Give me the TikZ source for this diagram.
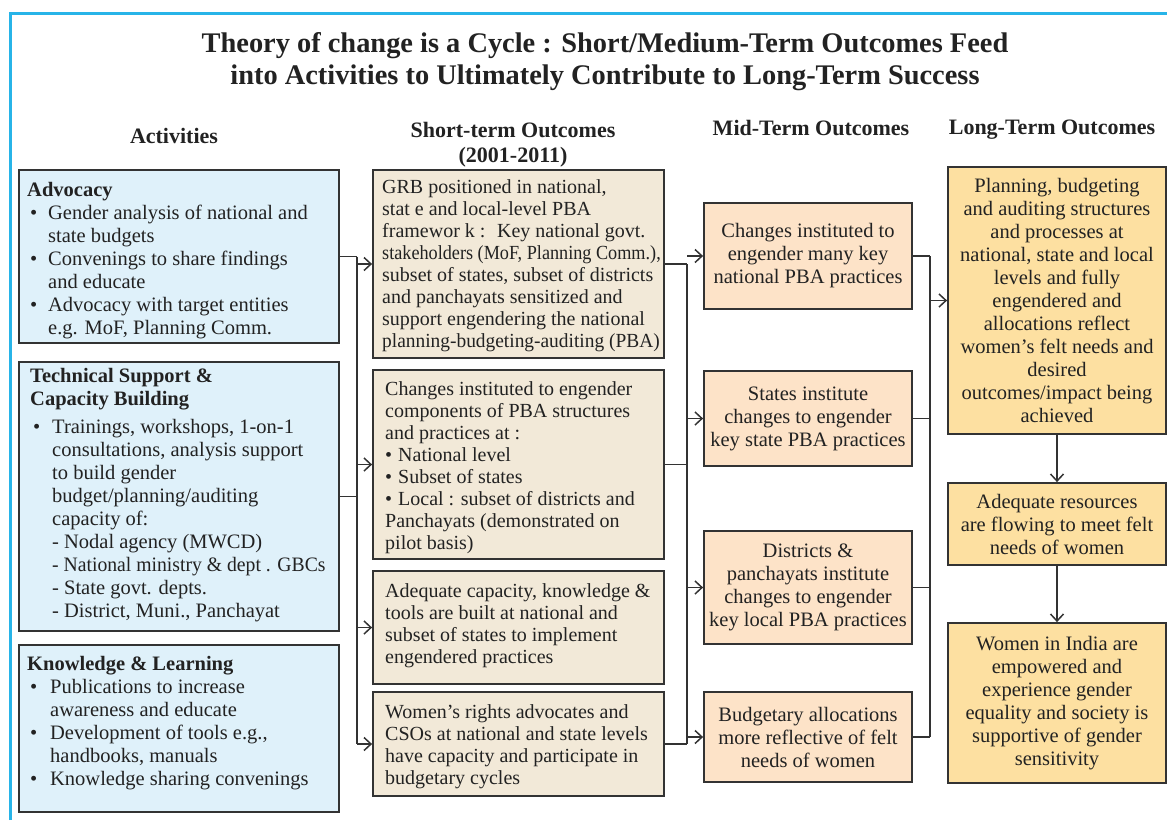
\documentclass[tikz,border=0pt]{standalone}
\usepackage{fontspec}
\setmainfont{Liberation Serif}
\usetikzlibrary{arrows.meta}

\definecolor{frameblue}{HTML}{27B4E8}
\definecolor{inkc}{HTML}{222222}
\definecolor{edgec}{HTML}{333333}
\definecolor{actfill}{HTML}{DFF1FA}
\definecolor{stfill}{HTML}{F2E9D8}
\definecolor{midfill}{HTML}{FDE3C8}
\definecolor{ltfill}{HTML}{FDE0A1}

\newcommand{\txtbody}{\fontsize{20.5pt}{23pt}\selectfont}
\newcommand{\txtst}{\fontsize{20pt}{22pt}\selectfont}
\newcommand{\txthead}{\fontsize{22pt}{25pt}\selectfont\bfseries}
\newcommand{\txttitle}{\fontsize{28.4pt}{32pt}\selectfont\bfseries}
\newcommand{\bul}[2]{\makebox[#1][l]{\hspace*{#2}•}}
% narrow a single long line horizontally
\newcommand{\squeeze}[2]{\scalebox{#1}[1]{#2}}

\begin{document}
\begin{tikzpicture}[x=1pt,y=-1pt,
  every node/.style={text=inkc},
  panel/.style={draw=edgec, line width=1.8pt, inner sep=0pt},
  actbox/.style={panel, fill=actfill, minimum width=320pt},
  stbox/.style={panel, fill=stfill, minimum width=291pt},
  midbox/.style={panel, fill=midfill, minimum width=208pt, align=center, font=\txtbody},
  ltbox/.style={panel, fill=ltfill, minimum width=218pt, align=center, font=\txtbody},
  body/.style={anchor=north west, inner sep=0pt, align=left, font=\txtbody},
  stbody/.style={body, font=\txtst},
  head/.style={font=\txthead, inner sep=0pt, align=center},
  conn/.style={draw=edgec, line width=1.5pt},
  arr/.style={conn, -{Straight Barb[length=7pt,width=13pt]}},
]
\useasboundingbox (0,0) rectangle (1167,820);
\fill[white] (0,0) rectangle (1167,820);

% frame
\draw[frameblue, line width=3pt] (10,820) -- (10,13) -- (1167,13);

% title and column headings
\node[font=\txttitle, align=center, inner sep=0pt] (title) at (605,62)
  {Theory of change is a Cycle : Short/Medium-Term Outcomes Feed\\
   into Activities to Ultimately Contribute to Long-Term Success};
\node[head] (hact) at (174,136) {Activities};
\node[head] (hst) at (513,145) {Short-term Outcomes\\(2001-2011)};
\node[head] (hmid) at (811,128) {Mid-Term Outcomes};
\node[head] (hlt) at (1052,130) {Long-Term Outcomes};

% activities
\node[actbox, minimum height=173pt] (adv) at (179,256.5) {};
\node[actbox, minimum height=269pt] (tech) at (179,496.5) {};
\node[actbox, minimum height=167pt] (know) at (179,728.5) {};

\node[body] (advtxt) at (27,182) {\textbf{Advocacy}\\
  \bul{21pt}{3pt}Gender analysis of national and\\
  \hspace*{21pt}state budgets\\
  \bul{21pt}{3pt}Convenings to share findings\\
  \hspace*{21pt}and educate\\
  \bul{21pt}{3pt}Advocacy with target entities\\
  \hspace*{21pt}e.g. MoF, Planning Comm.};

\node[body] (techtxt) at (30,368) {\textbf{Technical Support \&}\\
  \textbf{Capacity Building}\\[5pt]
  \bul{22pt}{3pt}Trainings, workshops, 1-on-1\\
  \hspace*{22pt}consultations, analysis support\\
  \hspace*{22pt}to build gender\\
  \hspace*{22pt}budget/planning/auditing\\
  \hspace*{22pt}capacity of:\\
  \hspace*{22pt}- Nodal agency (MWCD)\\
  \hspace*{22pt}\squeeze{0.96}{- National ministry \& dept . GBCs}\\
  \hspace*{22pt}- State govt. depts.\\
  \hspace*{22pt}- District, Muni., Panchayat};

\node[body] (knowtxt) at (27,656) {\textbf{Knowledge \& Learning}\\
  \bul{23pt}{3pt}Publications to increase\\
  \hspace*{23pt}awareness and educate\\
  \bul{23pt}{3pt}Development of tools e.g.,\\
  \hspace*{23pt}handbooks, manuals\\
  \bul{23pt}{3pt}Knowledge sharing convenings};

% short-term outcomes
\node[stbox, minimum height=188pt] (st1) at (518.5,264) {};
\node[stbox, minimum height=189pt] (st2) at (518.5,464.5) {};
\node[stbox, minimum height=113pt] (st3) at (518.5,627.5) {};
\node[stbox, minimum height=104pt] (st4) at (518.5,744) {};

\node[stbody] (st1txt) at (382,179) {GRB positioned in national,\\
  stat e and local-level PBA\\
  framewor k :~ Key national govt.\\
  \squeeze{0.91}{stakeholders (MoF, Planning Comm.),}\\
  subset of states, subset of districts\\
  and panchayats sensitized and\\
  support engendering the national\\
  \squeeze{0.97}{planning-budgeting-auditing (PBA)}};

\node[stbody] (st2txt) at (385,381) {Changes instituted to engender\\
  components of PBA structures\\
  and practices at :\\
  \bul{13pt}{0pt}National level\\
  \bul{13pt}{0pt}Subset of states\\
  \bul{13pt}{0pt}Local : subset of districts and\\
  Panchayats (demonstrated on\\
  pilot basis)};

\node[stbody] (st3txt) at (385,583) {Adequate capacity, knowledge \&\\
  tools are built at national and\\
  subset of states to implement\\
  engendered practices};

\node[stbody] (st4txt) at (385,704) {Women’s rights advocates and\\
  CSOs at national and state levels\\
  have capacity and participate in\\
  budgetary cycles};

% mid-term outcomes
\node[midbox, minimum height=106pt] (m1) at (808,256)
  {Changes instituted to\\engender many key\\national PBA practices};
\node[midbox, minimum height=95pt] (m2) at (808,418.5)
  {States institute\\changes to engender\\key state PBA practices};
\node[midbox, minimum height=113pt] (m3) at (808,587.5)
  {Districts \&\\panchayats institute\\changes to engender\\key local PBA practices};
\node[midbox, minimum height=90pt] (m4) at (808,737)
  {Budgetary allocations\\more reflective of felt\\needs of women};

% long-term outcomes
\node[ltbox, minimum height=267pt] (l1) at (1057,300.5)
  {Planning, budgeting\\and auditing structures\\and processes at\\national, state and local\\levels and fully\\engendered and\\allocations reflect\\women’s felt needs and\\desired\\outcomes/impact being\\achieved};
\node[ltbox, minimum height=82pt] (l2) at (1057,524)
  {Adequate resources\\are flowing to meet felt\\needs of women};
\node[ltbox, minimum height=160pt] (l3) at (1057,703)
  {Women in India are\\empowered and\\experience gender\\equality and society is\\supportive of gender\\sensitivity};

% bus lines
\coordinate (busA) at (357,0);
\coordinate (busB) at (687,0);
\coordinate (busC) at (930,0);

% activities -> short-term
\draw[conn] (adv.east) -- (adv.east -| busA);
\draw[conn] (tech.east) -- (tech.east -| busA);
\draw[conn] (adv.east -| busA) -- (st4.west -| busA);
\foreach \t in {st1,st2,st3,st4}
  \draw[arr] (\t.west -| busA) -- (\t.west);

% short-term -> mid-term
\draw[conn] (st1.east) -- (st1.east -| busB);
\draw[conn] (st2.east) -- (st2.east -| busB);
\draw[conn] (st4.east) -- (st4.east -| busB);
\draw[conn] (st1.east -| busB) -- (st4.east -| busB);
\foreach \t in {m1,m2,m3,m4}
  \draw[arr] (\t.west -| busB) -- (\t.west);

% mid-term -> long-term
\foreach \t in {m1,m2,m3,m4}
  \draw[conn] (\t.east) -- (\t.east -| busC);
\draw[conn] (m1.east -| busC) -- (m4.east -| busC);
\draw[arr] (l1.west -| busC) -- (l1.west);

% long-term chain
\draw[arr] (l1.south) -- (l2.north);
\draw[arr] (l2.south) -- (l3.north);
\end{tikzpicture}
\end{document}
